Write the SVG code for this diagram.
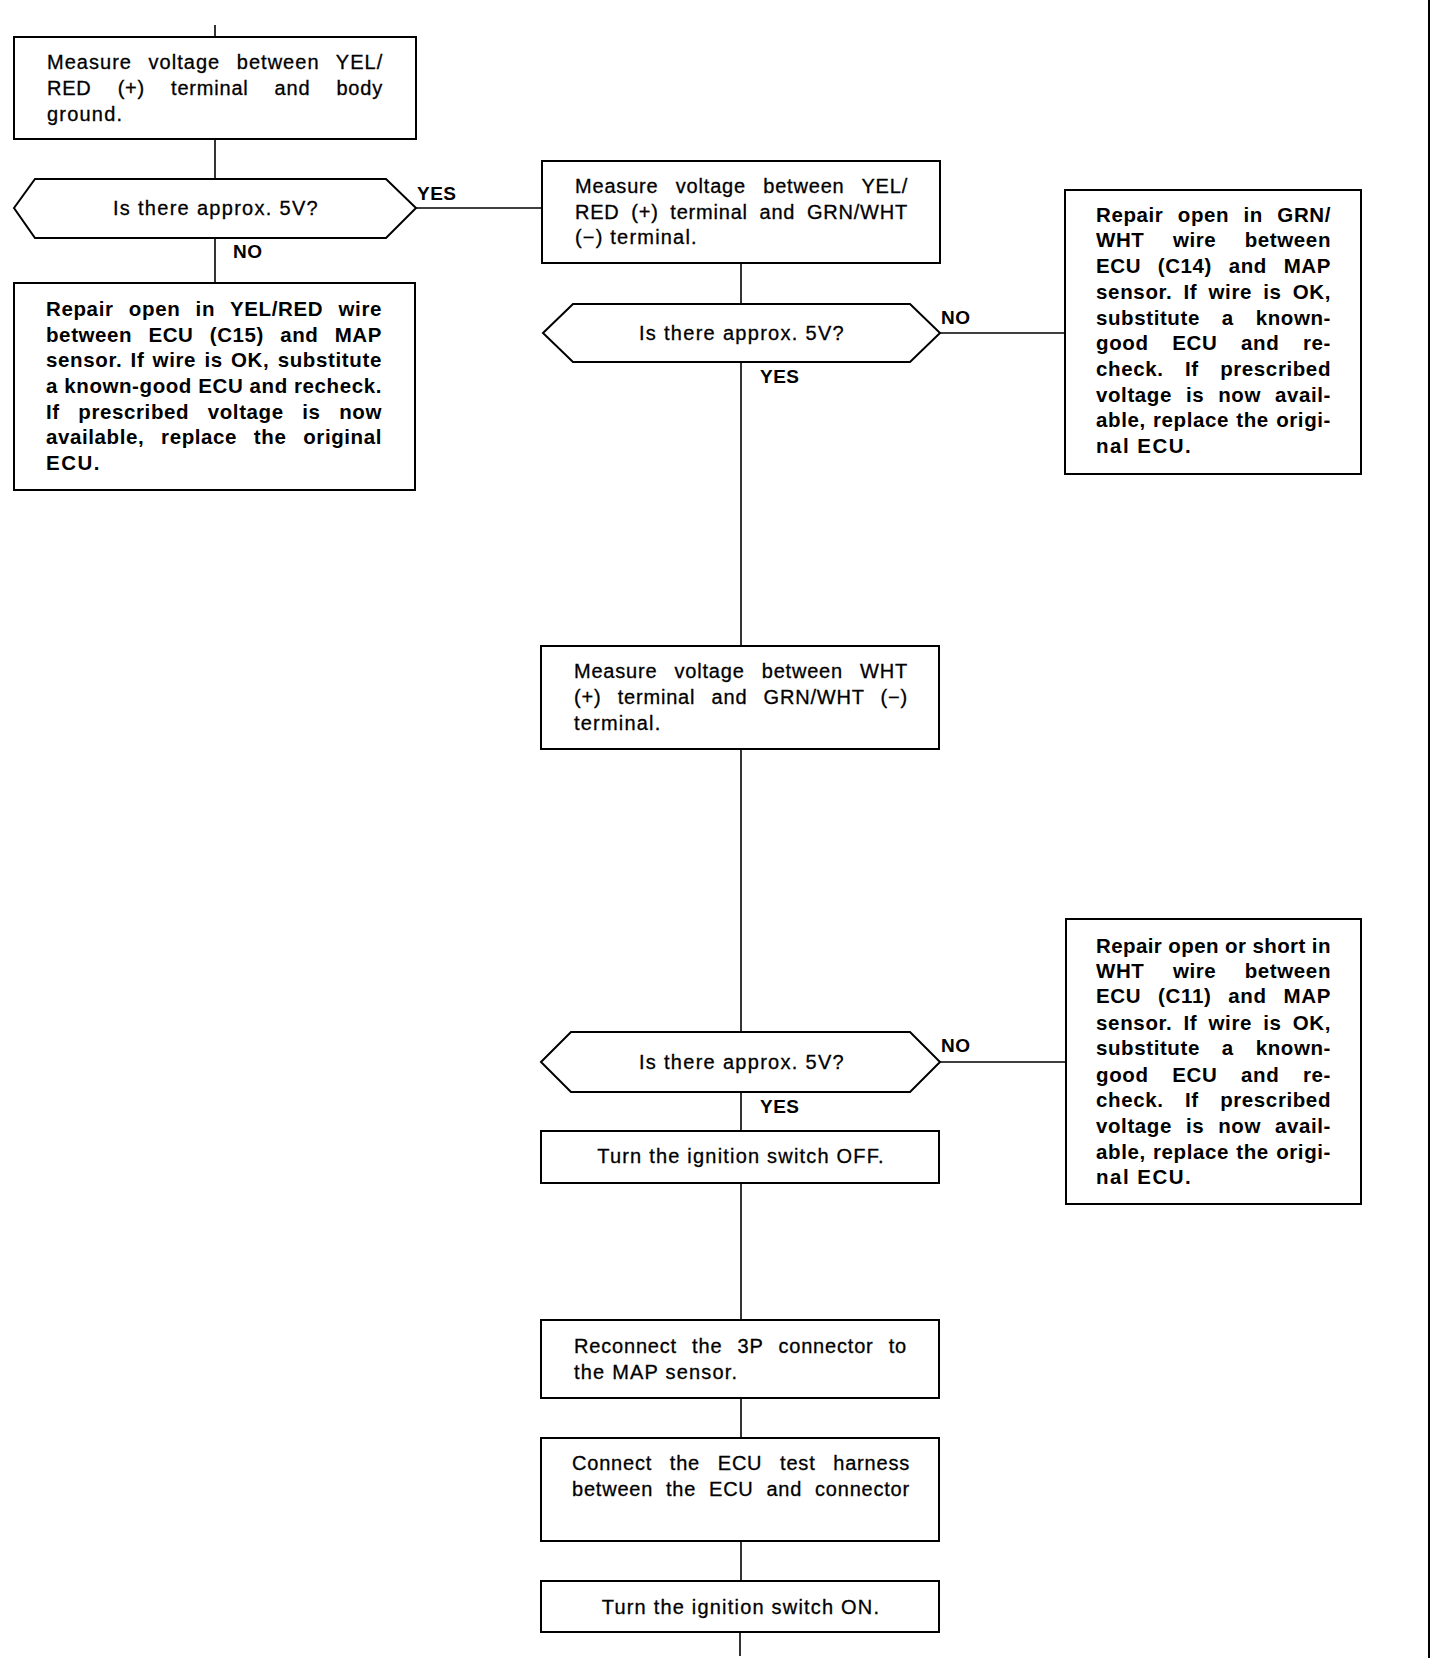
<svg xmlns="http://www.w3.org/2000/svg" width="1440" height="1658" viewBox="0 0 1440 1658">
<style>
.box{fill:#fff;stroke:#000;stroke-width:2}
.ln{stroke:#000;stroke-width:1.6;fill:none}
.t{font-family:"Liberation Sans",Arial,sans-serif;font-size:20px;fill:#000;stroke:#000;stroke-width:0.3}
.tj{letter-spacing:0.8px}
.ts{letter-spacing:1.2px}
.b{font-family:"Liberation Sans",Arial,sans-serif;font-size:20.5px;font-weight:bold;fill:#000}
.bj{letter-spacing:0.6px}
.bs{letter-spacing:1.5px}
.hx{letter-spacing:1.3px}
.c{text-anchor:middle}
.lab{font-family:"Liberation Sans",Arial,sans-serif;font-size:19px;font-weight:bold;fill:#000;letter-spacing:0.5px}
</style>
<rect width="1440" height="1658" fill="#fff"/>
<g id="connectors">
<line class="ln" x1="215" y1="25" x2="215" y2="37"/>
<line class="ln" x1="215" y1="139" x2="215" y2="179"/>
<line class="ln" x1="215" y1="238" x2="215" y2="283"/>
<line class="ln" x1="416" y1="208" x2="542" y2="208"/>
<line class="ln" x1="741" y1="263" x2="741" y2="304"/>
<line class="ln" x1="940" y1="333" x2="1065" y2="333"/>
<line class="ln" x1="741" y1="362" x2="741" y2="646"/>
<line class="ln" x1="741" y1="749" x2="741" y2="1032"/>
<line class="ln" x1="940" y1="1062" x2="1066" y2="1062"/>
<line class="ln" x1="741" y1="1092" x2="741" y2="1131"/>
<line class="ln" x1="741" y1="1183" x2="741" y2="1320"/>
<line class="ln" x1="741" y1="1398" x2="741" y2="1438"/>
<line class="ln" x1="741" y1="1541" x2="741" y2="1581"/>
<line class="ln" x1="740" y1="1632" x2="740" y2="1656"/>
<text class="lab" x="417" y="200">YES</text>
<text class="lab" x="233" y="258">NO</text>
<text class="lab" x="941" y="324">NO</text>
<text class="lab" x="760" y="383">YES</text>
<text class="lab" x="941" y="1052">NO</text>
<text class="lab" x="760" y="1113">YES</text>
</g>
<line id="page-border" x1="1429" y1="0" x2="1429" y2="1658" stroke="#000" stroke-width="2"/>
<g id="n1">
<rect class="box" x="14" y="37" width="402" height="102"/>
<text class="t tj" x="47" y="69" word-spacing="10" textLength="336" lengthAdjust="spacing">Measure voltage between YEL/</text>
<text class="t tj" x="47" y="95" word-spacing="19.7" textLength="336" lengthAdjust="spacing">RED (+) terminal and body</text>
<text class="t ts" x="47" y="121">ground.</text>
</g>
<g id="d1">
<polygon class="box" points="14,208 35,179 386,179 416,208 386,238 35,238"/>
<text class="t hx c" x="216" y="215">Is there approx. 5V?</text>
</g>
<g id="n2">
<rect class="box" x="14" y="283" width="401" height="207"/>
<text class="b bj" x="46" y="316" word-spacing="9" textLength="336" lengthAdjust="spacing">Repair open in YEL/RED wire</text>
<text class="b bj" x="46" y="342" word-spacing="9.9" textLength="336" lengthAdjust="spacing">between ECU (C15) and MAP</text>
<text class="b bj" x="46" y="367" word-spacing="1.9" textLength="336" lengthAdjust="spacing">sensor. If wire is OK, substitute</text>
<text class="b bj" x="46" y="393" textLength="336" lengthAdjust="spacing">a known-good ECU and recheck.</text>
<text class="b bj" x="46" y="419" word-spacing="12.3" textLength="336" lengthAdjust="spacing">If prescribed voltage is now</text>
<text class="b bj" x="46" y="444" word-spacing="10.5" textLength="336" lengthAdjust="spacing">available, replace the original</text>
<text class="b bs" x="46" y="470">ECU.</text>
</g>
<g id="n3">
<rect class="box" x="542" y="161" width="398" height="102"/>
<text class="t tj" x="575" y="193" word-spacing="10.9" textLength="333" lengthAdjust="spacing">Measure voltage between YEL/</text>
<text class="t tj" x="575" y="219" word-spacing="5.3" textLength="333" lengthAdjust="spacing">RED (+) terminal and GRN/WHT</text>
<text class="t ts" x="575" y="244">(−) terminal.</text>
</g>
<g id="d2">
<polygon class="box" points="543,333 573,304 910,304 940,333 910,362 573,362"/>
<text class="t hx c" x="742" y="340">Is there approx. 5V?</text>
</g>
<g id="n4">
<rect class="box" x="1065" y="190" width="296" height="284"/>
<text class="b bj" x="1096" y="222" word-spacing="8.1" textLength="235" lengthAdjust="spacing">Repair open in GRN/</text>
<text class="b bj" x="1096" y="247" word-spacing="22.1" textLength="235" lengthAdjust="spacing">WHT wire between</text>
<text class="b bj" x="1096" y="273" word-spacing="10.4" textLength="235" lengthAdjust="spacing">ECU (C14) and MAP</text>
<text class="b bj" x="1096" y="299" word-spacing="4.7" textLength="235" lengthAdjust="spacing">sensor. If wire is OK,</text>
<text class="b bj" x="1096" y="325" word-spacing="15.6" textLength="235" lengthAdjust="spacing">substitute a known-</text>
<text class="b bj" x="1096" y="350" word-spacing="17.4" textLength="235" lengthAdjust="spacing">good ECU and re-</text>
<text class="b bj" x="1096" y="376" word-spacing="15.2" textLength="235" lengthAdjust="spacing">check. If prescribed</text>
<text class="b bj" x="1096" y="402" word-spacing="7.7" textLength="235" lengthAdjust="spacing">voltage is now avail-</text>
<text class="b bj" x="1096" y="427" word-spacing="1" textLength="235" lengthAdjust="spacing">able, replace the origi-</text>
<text class="b bs" x="1096" y="453">nal ECU.</text>
</g>
<g id="n5">
<rect class="box" x="541" y="646" width="398" height="103"/>
<text class="t tj" x="574" y="678" word-spacing="10.8" textLength="334" lengthAdjust="spacing">Measure voltage between WHT</text>
<text class="t tj" x="574" y="704" word-spacing="9.8" textLength="334" lengthAdjust="spacing">(+) terminal and GRN/WHT (−)</text>
<text class="t ts" x="574" y="730">terminal.</text>
</g>
<g id="d3">
<polygon class="box" points="541,1062 571,1032 910,1032 940,1062 910,1092 571,1092"/>
<text class="t hx c" x="742" y="1069">Is there approx. 5V?</text>
</g>
<g id="n6">
<rect class="box" x="1066" y="919" width="295" height="285"/>
<text class="b bj" x="1096" y="953" textLength="235" lengthAdjust="spacing">Repair open or short in</text>
<text class="b bj" x="1096" y="978" word-spacing="22.1" textLength="235" lengthAdjust="spacing">WHT wire between</text>
<text class="b bj" x="1096" y="1003" word-spacing="10.4" textLength="235" lengthAdjust="spacing">ECU (C11) and MAP</text>
<text class="b bj" x="1096" y="1030" word-spacing="4.7" textLength="235" lengthAdjust="spacing">sensor. If wire is OK,</text>
<text class="b bj" x="1096" y="1055" word-spacing="15.6" textLength="235" lengthAdjust="spacing">substitute a known-</text>
<text class="b bj" x="1096" y="1082" word-spacing="17.4" textLength="235" lengthAdjust="spacing">good ECU and re-</text>
<text class="b bj" x="1096" y="1107" word-spacing="15.2" textLength="235" lengthAdjust="spacing">check. If prescribed</text>
<text class="b bj" x="1096" y="1133" word-spacing="7.7" textLength="235" lengthAdjust="spacing">voltage is now avail-</text>
<text class="b bj" x="1096" y="1159" word-spacing="1" textLength="235" lengthAdjust="spacing">able, replace the origi-</text>
<text class="b bs" x="1096" y="1184">nal ECU.</text>
</g>
<g id="n7">
<rect class="box" x="541" y="1131" width="398" height="52"/>
<text class="t ts c" x="741" y="1163">Turn the ignition switch OFF.</text>
</g>
<g id="n8">
<rect class="box" x="541" y="1320" width="398" height="78"/>
<text class="t tj" x="574" y="1353" word-spacing="8.8" textLength="333" lengthAdjust="spacing">Reconnect the 3P connector to</text>
<text class="t ts" x="574" y="1379">the MAP sensor.</text>
</g>
<g id="n9">
<rect class="box" x="541" y="1438" width="398" height="103"/>
<text class="t tj" x="572" y="1470" word-spacing="11.4" textLength="338" lengthAdjust="spacing">Connect the ECU test harness</text>
<text class="t tj" x="572" y="1496" word-spacing="6.5" textLength="338" lengthAdjust="spacing">between the ECU and connector</text>
</g>
<g id="n10">
<rect class="box" x="541" y="1581" width="398" height="51"/>
<text class="t ts c" x="741" y="1614">Turn the ignition switch ON.</text>
</g>
</svg>
